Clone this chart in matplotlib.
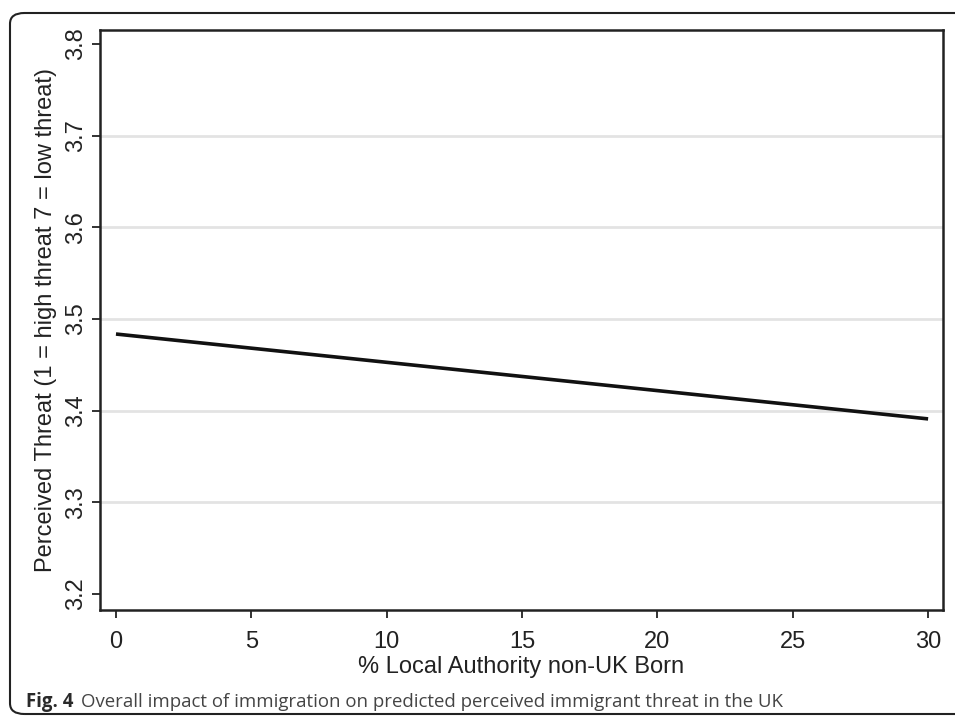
import matplotlib
matplotlib.use("Agg")
import matplotlib.pyplot as plt
from matplotlib.patches import FancyBboxPatch

# Data
pct_non_uk = [0, 30]
threat = [3.4836, 3.391]
x_ticks = [0, 5, 10, 15, 20, 25, 30]
y_ticks = [3.2, 3.3, 3.4, 3.5, 3.6, 3.7, 3.8]
grid_levels = [3.3, 3.4, 3.5, 3.6, 3.7]

plt.rcParams["font.family"] = ["Liberation Sans", "DejaVu Sans"]

fig = plt.figure(figsize=(9.55, 7.18), dpi=100)
W, H = 955, 718
ax = fig.add_axes([100 / W, 1 - 610 / H, 843 / W, 580 / H])

for g in grid_levels:
    ax.axhline(g, color="#e3e3e3", lw=2, zorder=0)

ax.plot(pct_non_uk, threat, color="#111111", lw=2.6, solid_capstyle="butt")

ax.set_xlim(-0.59, 30.55)
ax.set_ylim(3.1825, 3.8153)
ax.set_xticks(x_ticks)
ax.set_yticks(y_ticks)
ax.set_yticklabels([f"{v:.1f}" for v in y_ticks], rotation=90, va="center")
ax.tick_params(axis="both", labelsize=17, length=6, width=1.3, color="#222222",
               labelcolor="#222222")
ax.tick_params(axis="x", pad=9)
ax.tick_params(axis="y", pad=3)
for s in ax.spines.values():
    s.set_linewidth(1.8)
    s.set_color("#222222")

ax.set_xlabel("% Local Authority non-UK Born", fontsize=17, color="#222222", labelpad=2)
ax.set_ylabel("Perceived Threat (1 = high threat 7 = low threat)", fontsize=17,
              color="#222222", labelpad=6)

# outer rounded frame
frame = FancyBboxPatch((10 / W, 4 / H), 1.2, 701 / H,
                       boxstyle="round,pad=0,rounding_size=0.015",
                       transform=fig.transFigure, fill=False,
                       edgecolor="#222222", lw=1.5, clip_on=False)
fig.patches.append(frame)

fig.text(26 / W, 1 - 702 / H, "Fig. 4", fontsize=13.4, fontweight="bold",
         family=["Open Sans", "DejaVu Sans"], color="#2a2a2a", va="center")
fig.text(81 / W, 1 - 702 / H,
         "Overall impact of immigration on predicted perceived immigrant threat in the UK",
         fontsize=13.4, family=["Open Sans", "DejaVu Sans"], color="#444444", va="center")

fig.savefig("out.png", dpi=100)
